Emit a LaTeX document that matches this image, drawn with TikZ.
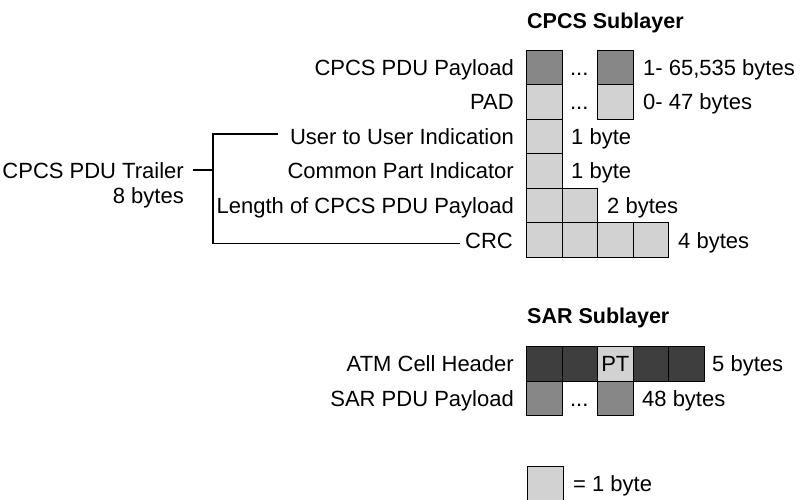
\documentclass[tikz,border=0pt]{standalone}
\usepackage{fontspec}
\setmainfont{Liberation Sans}
\begin{document}
\begin{tikzpicture}[x=1pt,y=-1pt,
  every node/.style={font=\fontsize{22}{26}\selectfont},
  cell/.style={draw=black,line width=1.2pt,minimum width=35.5pt,minimum height=34.5pt,inner sep=0pt,anchor=north west},
  lt/.style={cell,fill=lightc},
  md/.style={cell,fill=midc},
  dk/.style={cell,fill=darkc},
  lbl/.style={anchor=base east,inner sep=0pt},
  rlbl/.style={anchor=base west,inner sep=0pt},
  head/.style={anchor=base west,inner sep=0pt,font=\fontsize{21.5}{26}\selectfont\bfseries},
  dots/.style={anchor=base,inner sep=0pt},
  brk/.style={line width=1.3pt}]
\definecolor{lightc}{RGB}{210,210,210}
\definecolor{midc}{RGB}{135,135,135}
\definecolor{darkc}{RGB}{62,62,62}
\useasboundingbox (0,0) rectangle (804,499);
% headings
\node[head] (hcpcs) at (527,28) {CPCS Sublayer};
\node[head] (hsar) at (527,323) {SAR Sublayer};
% CPCS rows
\node[md] (pay1) at (526,49.5) {};
\node[md] (pay2) at (597,49.5) {};
\node[lt] (pad1) at (526,84) {};
\node[lt] (pad2) at (597,84) {};
\node[lt] (uui1) at (526,118.5) {};
\node[lt] (cpi1) at (526,153) {};
\node[lt] (len1) at (526,187.5) {};
\node[lt] (len2) at (561.5,187.5) {};
\node[lt] (crc1) at (526,222) {};
\node[lt] (crc2) at (561.5,222) {};
\node[lt] (crc3) at (597,222) {};
\node[lt] (crc4) at (632.5,222) {};
\node[dots] (dpay) at (579.25,75) {...};
\node[dots] (dpad) at (579.25,109.5) {...};
% left labels
\node[lbl] (lpay) at (514,75) {CPCS PDU Payload};
\node[lbl] (lpad) at (514,109.5) {PAD};
\node[lbl] (luui) at (514,144) {User to User Indication};
\node[lbl] (lcpi) at (514,178.5) {Common Part Indicator};
\node[lbl] (llen) at (514,213) {Length of CPCS PDU Payload};
\node[lbl] (lcrc) at (513,248) {CRC};
% right labels
\node[rlbl] (rpay) at (643,75) {1- 65,535 bytes};
\node[rlbl] (rpad) at (643,109.5) {0- 47 bytes};
\node[rlbl] (ruui) at (571,144) {1 byte};
\node[rlbl] (rcpi) at (571,178.5) {1 byte};
\node[rlbl] (rlen) at (607,213) {2 bytes};
\node[rlbl] (rcrc) at (678,248) {4 bytes};
% trailer bracket
\node[lbl] (trl) at (184,178.5) {CPCS PDU Trailer};
\node[lbl] (trb) at (184,203) {8 bytes};
\coordinate (tick) at (193,170);
\coordinate (bM) at (213,170);
\coordinate (bT) at (213,134);
\coordinate (bB) at (213,243.3);
\coordinate (uuiEnd) at (278,134);
\coordinate (crcEnd) at (460,243.3);
\draw[brk] (uuiEnd) -- (bT) -- (bB) -- (crcEnd);
\draw[brk] (tick) -- (bM);
% SAR
\node[dk] (h1) at (526,346) {};
\node[dk] (h2) at (561.5,346) {};
\node[lt] (h3) at (597,346) {};
\node[dk] (h4) at (632.5,346) {};
\node[dk] (h5) at (668,346) {};
\node[inner sep=0pt] (pt) at (h3.center) {PT};
\node[md] (s1) at (526,380.5) {};
\node[md] (s2) at (597,380.5) {};
\node[dots] (dsar) at (579.25,406) {...};
\node[lbl] (latm) at (514,371.5) {ATM Cell Header};
\node[lbl] (lsar) at (514,406) {SAR PDU Payload};
\node[rlbl] (ratm) at (712,371.5) {5 bytes};
\node[rlbl] (rsar) at (642,406) {48 bytes};
% legend
\node[lt] (leg) at (527,466) {};
\node[rlbl] (rleg) at (573,491.5) {= 1 byte};
\end{tikzpicture}
\end{document}
